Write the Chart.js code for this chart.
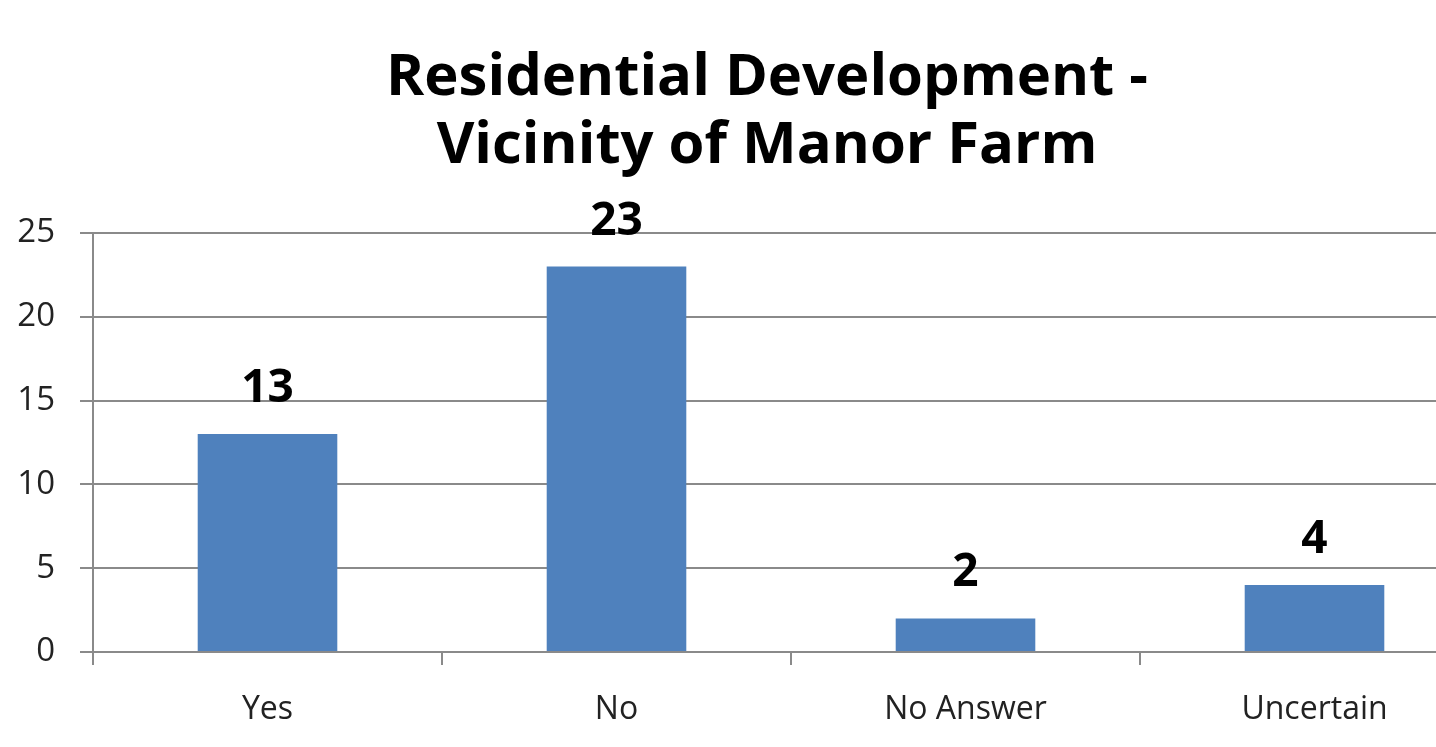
<!DOCTYPE html>
<html>
<head>
<meta charset="utf-8">
<script src="https://cdn.jsdelivr.net/npm/chart.js@4"></script>
<style>
html,body{margin:0;padding:0;overflow:hidden;background:#fff;}
#wrap{width:1534px;height:747px;}
</style>
</head>
<body>
<div id="wrap"><canvas id="c" width="1534" height="747"></canvas></div>
<script>
const categories = ['Yes', 'No', 'No Answer', 'Uncertain'];
const responses = [13, 23, 2, 4];
const titleLines = ['Residential Development -', 'Vicinity of Manor Farm'];
const yTicks = [0, 5, 10, 15, 20, 25];

const FONT = '"Open Sans", "DejaVu Sans", sans-serif';
const GRID = '#8a8a8a';

const titlePlugin = {
  id: 'titleText',
  afterDraw(chart) {
    const ctx = chart.ctx;
    ctx.save();
    ctx.font = 'bold 58px ' + FONT;
    ctx.fillStyle = '#000';
    ctx.textAlign = 'center';
    ctx.textBaseline = 'alphabetic';
    const cx = chart.width / 2;
    ctx.fillText(titleLines[0], cx, 95);
    ctx.fillText(titleLines[1], cx, 163);
    ctx.restore();
  }
};

const valueLabels = {
  id: 'valueLabels',
  afterDatasetsDraw(chart) {
    const ctx = chart.ctx;
    ctx.save();
    ctx.font = 'bold 46px ' + FONT;
    ctx.fillStyle = '#000';
    ctx.textAlign = 'center';
    ctx.textBaseline = 'alphabetic';
    const meta = chart.getDatasetMeta(0);
    meta.data.forEach((bar, i) => {
      ctx.fillText(String(chart.data.datasets[0].data[i]), bar.x, bar.y - 32);
    });
    ctx.restore();
  }
};

new Chart(document.getElementById('c'), {
  type: 'bar',
  data: {
    labels: categories,
    datasets: [{
      data: responses,
      backgroundColor: '#4f81bd',
      borderWidth: 0,
      categoryPercentage: 0.8,
      barPercentage: 0.5
    }]
  },
  options: {
    responsive: false,
    animation: false,
    layout: { padding: { top: 233, right: 45, bottom: 0, left: 0 } },
    plugins: {
      legend: { display: false },
      title: { display: false },
      tooltip: { enabled: false }
    },
    scales: {
      x: {
        offset: true,
        grid: {
          offset: true,
          drawOnChartArea: false,
          drawTicks: true,
          tickLength: 13,
          color: GRID,
          lineWidth: 2
        },
        border: { display: true, color: GRID, width: 2 },
        ticks: {
          color: '#222',
          font: { family: FONT, size: 32 },
          padding: 26,
          maxRotation: 0
        },
        afterFit(scale) { scale.height = 95; }
      },
      y: {
        min: 0,
        max: 25,
        afterBuildTicks(scale) { scale.ticks = yTicks.map(v => ({ value: v })); },
        grid: {
          color: GRID,
          lineWidth: 2,
          drawTicks: true,
          tickLength: 13
        },
        border: { display: true, color: GRID, width: 2 },
        ticks: {
          color: '#222',
          font: { family: FONT, size: 33 },
          padding: 25
        },
        afterFit(scale) { scale.width = 93; }
      }
    }
  },
  plugins: [titlePlugin, valueLabels]
});
</script>
</body>
</html>
